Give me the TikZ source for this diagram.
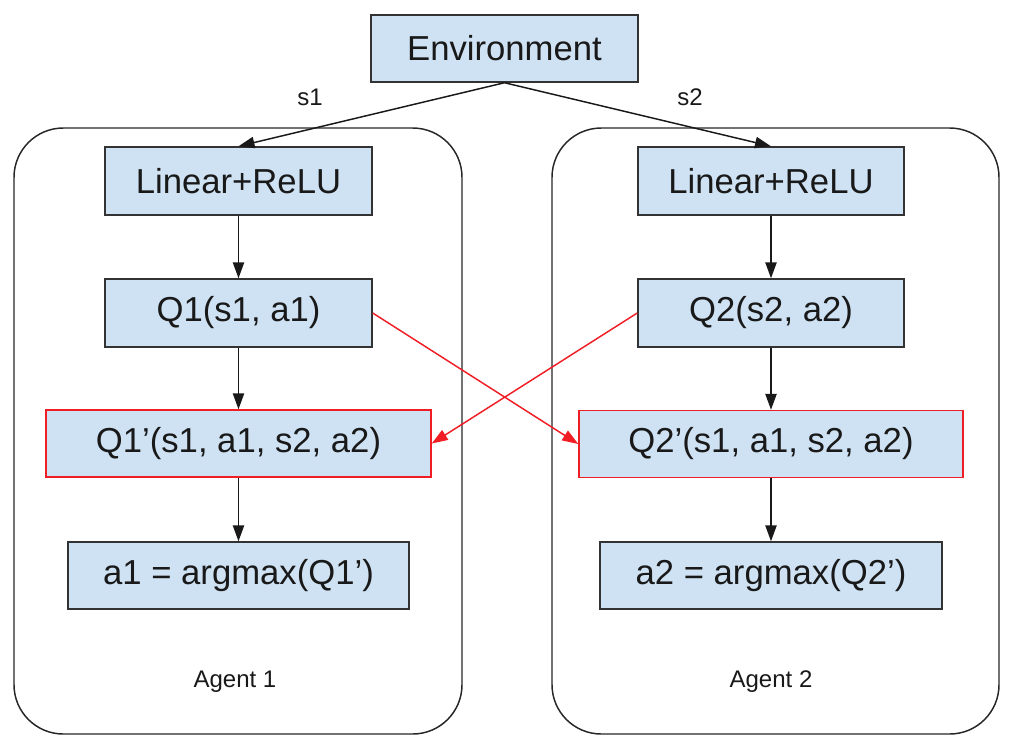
\documentclass[tikz,border=0pt]{standalone}
\usepackage{fontspec}
\setmainfont{Liberation Sans}
\usetikzlibrary{arrows.meta}
\definecolor{boxfill}{HTML}{CFE2F3}
\definecolor{boxline}{HTML}{333333}
\definecolor{redline}{HTML}{F01E24}
\tikzset{
  px/.style={x=0.75pt,y=-0.75pt},
  blk/.style={draw=boxline, line width=1.1pt, fill=boxfill, inner sep=0pt,
    font=\fontsize{26}{30}\selectfont, text=black!90},
  redblk/.style={blk, draw=redline},
  agentbox/.style={draw=black!85, line width=1.1pt, rounded corners=37pt},
  lbl/.style={font=\fontsize{18}{22}\selectfont, text=black!90, inner sep=0pt},
  flow/.style={draw=black!90, line width=1.1pt, -{Triangle[length=12pt,width=8.5pt]}},
  redflow/.style={draw=redline, line width=1.1pt, -{Triangle[length=12pt,width=8.5pt]}}
}
\begin{document}
\begin{tikzpicture}[px]
\useasboundingbox (0,0) rectangle (1014,744);
% agent containers
\draw[agentbox] (14,128) rectangle (462,734);
\draw[agentbox] (552,128) rectangle (999,734);
% nodes
\node[blk, minimum width=200.25pt, minimum height=50.25pt] (env) at (504.5,48.5) {Environment};
\node[blk, minimum width=200.25pt, minimum height=51pt] (linL) at (238.5,181) {Linear+ReLU};
\node[blk, minimum width=200.25pt, minimum height=51pt] (q1) at (238.5,313) {Q1(s1, a1)};
\node[redblk, minimum width=288.75pt, minimum height=50.25pt] (q1p) at (238.5,443.5) {Q1’(s1, a1, s2, a2)};
\node[blk, minimum width=255.75pt, minimum height=50.25pt] (a1) at (238.5,575.5) {a1 = argmax(Q1’)};
\node[blk, minimum width=199.5pt, minimum height=51pt] (linR) at (771,181) {Linear+ReLU};
\node[blk, minimum width=199.5pt, minimum height=51pt] (q2) at (771,313) {Q2(s2, a2)};
\node[redblk, minimum width=288pt, minimum height=50.25pt] (q2p) at (771,444) {Q2’(s1, a1, s2, a2)};
\node[blk, minimum width=256.5pt, minimum height=50.25pt] (a2) at (771,575.5) {a2 = argmax(Q2’)};
% labels
\node[lbl] (s1) at (310,97) {s1};
\node[lbl] (s2) at (690,97) {s2};
\node[lbl] (ag1) at (235,682) {Agent 1};
\node[lbl] (ag2) at (771,682) {Agent 2};
% connectors
\draw[flow] (env.south) -- (linL.north);
\draw[flow] (env.south) -- (linR.north);
\draw[flow] (linL) -- (q1);
\draw[flow] (q1) -- (q1p);
\draw[flow] (q1p) -- (a1);
\draw[flow] (linR) -- (q2);
\draw[flow] (q2) -- (q2p);
\draw[flow] (q2p) -- (a2);
\draw[redflow] (q1.east) -- (q2p.west);
\draw[redflow] (q2.west) -- (q1p.east);
\end{tikzpicture}
\end{document}
